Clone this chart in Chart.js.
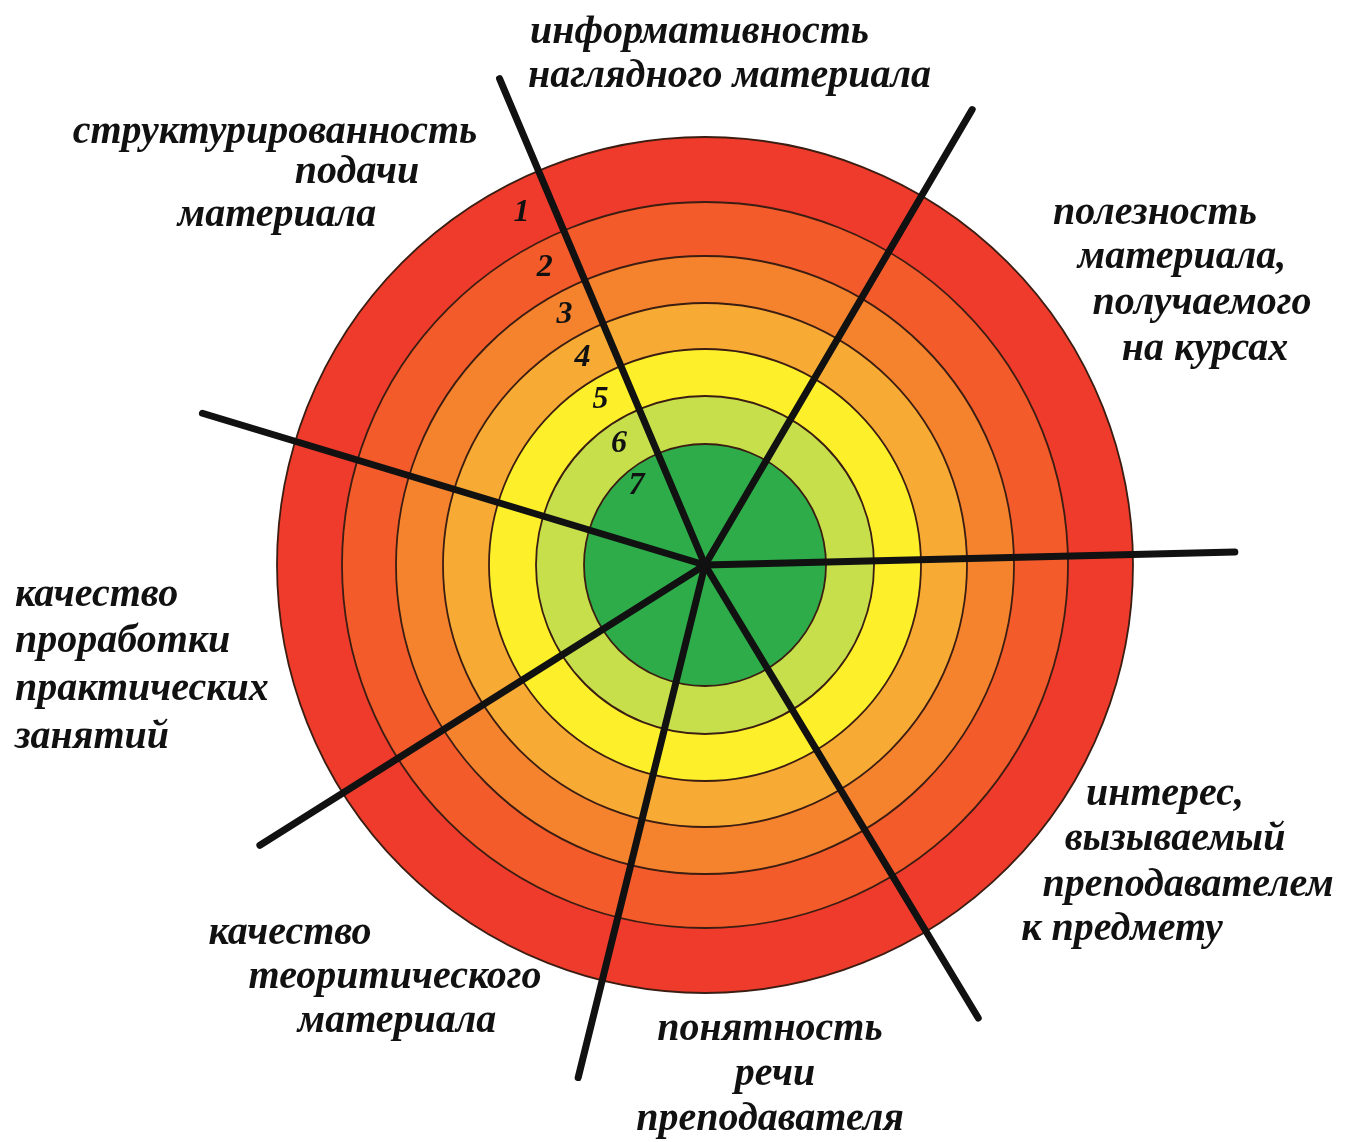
<!DOCTYPE html>
<html>
<head>
<meta charset="utf-8">
<script src="https://cdn.jsdelivr.net/npm/chart.js@4/dist/chart.umd.min.js"></script>
<style>
  html, body { margin: 0; padding: 0; background: #ffffff; }
  #wrap { width: 1352px; height: 1142px; }
</style>
</head>
<body>
<div id="wrap"><canvas id="c" width="1352" height="1142"></canvas></div>
<script>
// ---------- data ----------
const categories = [
  'информативность наглядного материала',
  'полезность материала, получаемого на курсах',
  'интерес, вызываемый преподавателем к предмету',
  'понятность речи преподавателя',
  'качество теоритического материала',
  'качество проработки практических занятий',
  'структурированность подачи материала'
];
// direction of each spoke, degrees counter-clockwise from the +x axis
const spokeAngles = [112.9, 59.6, 1.4, -58.9, -103.9, -147.8, 163.2];
const spokeLengths = [528, 528, 530, 529, 528, 526, 525];
// rating levels (outer = 1, inner = 7) and the outer radius of each ring
const ringLevels = ['1', '2', '3', '4', '5', '6', '7'];
const ringRadii = [428, 363, 309, 262, 216, 169, 121];

// ---------- styles / layout ----------
const ringColors = ['#ef3b2c', '#f35b2b', '#f5832e', '#f8ab34', '#fdf02a', '#c6df4b', '#2eac4a'];
const labelFont = 'bold italic 40px "Liberation Serif"';
const numberFont = 'bold italic 32px "Liberation Serif"';
const CX = 705, CY = 565;
// label lines: [text, x, y, align] in picture units
const labelLines = [
  ['информативность', 530, 33, 'left'], ['наглядного материала', 528, 77, 'left'],
  ['структурированность', 275, 133, 'center'], ['подачи', 357, 173, 'center'], ['материала', 277, 216, 'center'],
  ['полезность', 1155, 214, 'center'], ['материала,', 1182, 258, 'center'], ['получаемого', 1202, 304, 'center'], ['на курсах', 1205, 350, 'center'],
  ['качество', 15, 596, 'left'], ['проработки', 15, 642, 'left'], ['практических', 15, 690, 'left'], ['занятий', 15, 738, 'left'],
  ['интерес,', 1165, 795, 'center'], ['вызываемый', 1175, 840, 'center'], ['преподавателем', 1188, 886, 'center'], ['к предмету', 1122, 930, 'center'],
  ['качество', 290, 934, 'center'], ['теоритического', 395, 978, 'center'], ['материала', 397, 1022, 'center'],
  ['понятность', 770, 1030, 'center'], ['речи', 775, 1075, 'center'], ['преподавателя', 770, 1120, 'center']
];

const rad = d => d * Math.PI / 180;

const spokeDatasets = spokeAngles.map((a, i) => ({
  type: 'line',
  label: categories[i],
  data: [{x: 0, y: 0}, {x: spokeLengths[i] * Math.cos(rad(a)), y: spokeLengths[i] * Math.sin(rad(a))}],
  borderColor: '#111111',
  borderWidth: 7,
  borderCapStyle: 'round',
  pointRadius: 0,
  fill: false,
  order: 0
}));

const ringDataset = {
  type: 'bubble',
  label: 'levels',
  data: ringLevels.map(() => ({x: 0, y: 0, r: 0})),
  backgroundColor: ringColors,
  borderColor: '#3b1d12',
  borderWidth: 1.8,
  order: 1
};

const textPlugin = {
  id: 'wheelText',
  afterDatasetsDraw(chart) {
    const {ctx, scales: {x, y}} = chart;
    ctx.save();
    ctx.fillStyle = '#111111';
    ctx.textBaseline = 'middle';
    ctx.font = numberFont;
    ctx.textAlign = 'center';
    const a = rad(spokeAngles[0]);
    const ux = Math.cos(a), uy = Math.sin(a);
    const px = -uy, py = ux;
    ringLevels.forEach((lv, i) => {
      const mid = i < ringRadii.length - 1 ? (ringRadii[i] + ringRadii[i + 1]) / 2 : 100;
      const off = 32;
      ctx.fillText(lv, x.getPixelForValue(ux * mid + px * off), y.getPixelForValue(uy * mid + py * off));
    });
    ctx.font = labelFont;
    labelLines.forEach(([t, lx, ly, al]) => {
      ctx.textAlign = al;
      ctx.fillText(t, x.getPixelForValue(lx - CX), y.getPixelForValue(CY - ly));
    });
    ctx.restore();
  }
};

const chart = new Chart(document.getElementById('c'), {
  type: 'bubble',
  data: { datasets: [ringDataset, ...spokeDatasets] },
  options: {
    responsive: false,
    animation: false,
    events: [],
    layout: { padding: 0, autoPadding: false },
    plugins: { legend: { display: false }, tooltip: { enabled: false }, title: { display: false } },
    scales: {
      x: { type: 'linear', min: -CX, max: 1352 - CX, display: false },
      y: { type: 'linear', min: -(1142 - CY), max: CY, display: false }
    }
  },
  plugins: [textPlugin]
});

// ring sizes: convert each ring radius (chart units) to a bubble radius through the x scale
const xs = chart.scales.x;
chart.data.datasets[0].data.forEach((d, i) => {
  d.r = xs.getPixelForValue(ringRadii[i]) - xs.getPixelForValue(0);
});
chart.update();
</script>
</body>
</html>
